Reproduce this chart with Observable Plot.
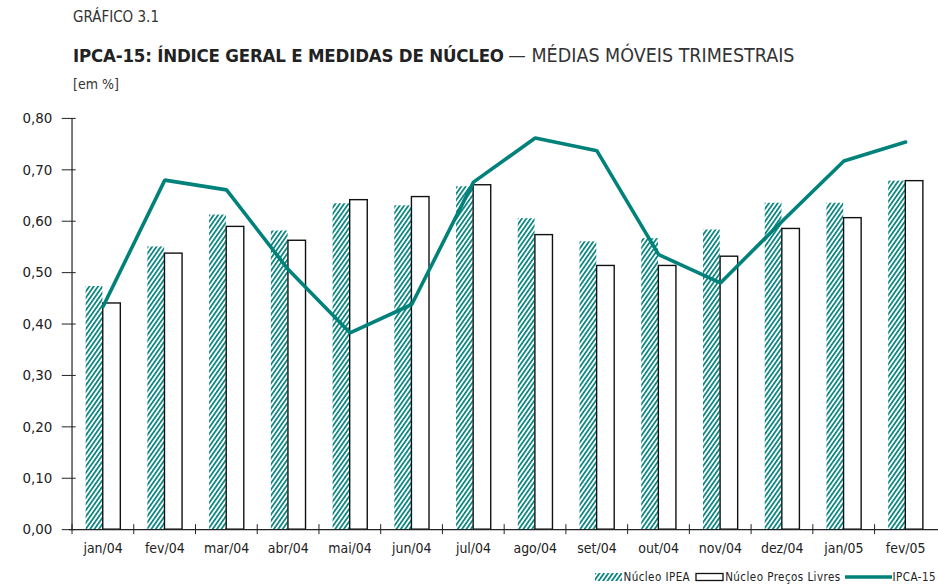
<!DOCTYPE html>
<html><head><meta charset="utf-8">
<script src="https://cdn.jsdelivr.net/npm/d3@7"></script>
<script src="https://cdn.jsdelivr.net/npm/@observablehq/plot@0.6"></script>
<style>
body{margin:0;overflow:hidden;background:#fff;font-family:"DejaVu Sans Condensed",sans-serif;color:#222}
#wrap{position:relative;width:938px;height:586px;overflow:hidden}
.t0{position:absolute;left:73px;top:8px;font-size:15px;color:#333}
.t1{position:absolute;left:73px;top:44px;color:#222;white-space:nowrap}
.t1 b{font-weight:bold;font-size:18.5px;letter-spacing:-0.2px}
.t1 span{color:#333;font-size:19.5px;letter-spacing:0px}
.t2{position:absolute;left:73px;top:76px;font-size:14px;color:#333}
#chart{position:absolute;left:0;top:100px}
#legend{position:absolute;right:2px;top:570px;font-size:11.5px;letter-spacing:0.45px;color:#222;display:flex;align-items:center;white-space:nowrap}
#legend > *{flex-shrink:0}
</style></head>
<body><div id="wrap">
<div class="t0">GRÁFICO 3.1</div>
<div class="t1"><b>IPCA-15: ÍNDICE GERAL E MEDIDAS DE NÚCLEO</b> <span>— MÉDIAS MÓVEIS TRIMESTRAIS</span></div>
<div class="t2">[em %]</div>
<div id="chart"></div>
<div id="legend">
<svg width="28" height="10"><defs><pattern id="hatchL" width="3.6" height="3.6" patternUnits="userSpaceOnUse" patternTransform="rotate(35)"><rect width="1.7" height="3.6" fill="#00827b"/></pattern></defs><rect x="0" y="1" width="27" height="8" fill="url(#hatchL)"/></svg><span>Núcleo IPEA</span>
<svg width="30" height="10" style="margin-left:5px"><rect x="1" y="1.5" width="27" height="7" fill="#fff" stroke="#111" stroke-width="1.3"/></svg><span>Núcleo Preços Livres</span>
<svg width="48" height="10" style="margin-left:4px"><line x1="0" y1="5" x2="47" y2="5" stroke="#00827b" stroke-width="3.5"/></svg><span>IPCA-15</span>
</div>
</div>
<script>
const months = ["jan/04","fev/04","mar/04","abr/04","mai/04","jun/04","jul/04","ago/04","set/04","out/04","nov/04","dez/04","jan/05","fev/05"];
const nucleoIPEA = [0.473,0.550,0.612,0.581,0.634,0.630,0.667,0.605,0.560,0.566,0.583,0.635,0.635,0.678];
const nucleoLivres = [0.440,0.537,0.589,0.562,0.641,0.647,0.670,0.573,0.513,0.513,0.531,0.585,0.606,0.678];
const ipca15 = [0.434,0.680,0.661,0.506,0.383,0.438,0.676,0.762,0.737,0.535,0.480,0.600,0.717,0.754];
const yTicks = [0,0.1,0.2,0.3,0.4,0.5,0.6,0.7,0.8];

const rows = months.map((m,i)=>({m, ipea:nucleoIPEA[i], livres:nucleoLivres[i], ipca:ipca15[i]}));
const teal = "#00827b";
const W = 942, ML = 69;
const bw = (W - ML) / months.length;
const fmt = d => d.toFixed(2).replace(".", ",");

const chart = Plot.plot({
  width: W, height: 460,
  marginLeft: ML, marginRight: 0, marginTop: 18, marginBottom: 29,
  style: {fontFamily: '"DejaVu Sans Condensed",sans-serif', fontSize: "14px", color: "#222", background: "#fff", overflow: "visible"},
  x: {type: "band", domain: months, padding: 0, label: null},
  y: {domain: [0, 0.8], label: null},
  marks: [
    Plot.barY(rows, {x: "m", y: "ipea", fill: "url(#hatch)", insetLeft: 14, insetRight: bw/2}),
    Plot.barY(rows, {x: "m", y: "livres", fill: "#fff", stroke: "#111", strokeWidth: 1.4, insetLeft: bw/2, insetRight: bw/2 - 18}),
    Plot.lineY(rows, {x: "m", y: "ipca", stroke: teal, strokeWidth: 3.6, strokeLinejoin: "miter"}),
    Plot.ruleY([0], {stroke: "#222", strokeWidth: 1.2}),
    Plot.ruleX([months[0]], {y1: 0, y2: 0.8, dx: -bw/2, stroke: "#222", strokeWidth: 1.2}),
    Plot.axisY({ticks: yTicks, tickSize: 0, tickPadding: 17, tickFormat: fmt, fontSize: 15, letterSpacing: "0.5px", label: null}),
    Plot.axisY({ticks: yTicks, tickSize: 14, dx: 7, tickFormat: () => "", stroke: "#222", label: null}),
    Plot.axisX({tickSize: 0, tickPadding: 13, fontSize: 14, letterSpacing: "1px", label: null}),
    Plot.axisX({tickSize: 10, dx: -bw/2, dy: -5, tickFormat: () => "", stroke: "#222", label: null})
  ]
});
const svg = d3.select(chart);
svg.insert("defs", ":first-child").html(
  `<pattern id="hatch" width="3.6" height="3.6" patternUnits="userSpaceOnUse" patternTransform="rotate(35)"><rect width="1.7" height="3.6" fill="${teal}"/></pattern>`
);
document.getElementById("chart").appendChild(chart);
</script>
</body></html>
